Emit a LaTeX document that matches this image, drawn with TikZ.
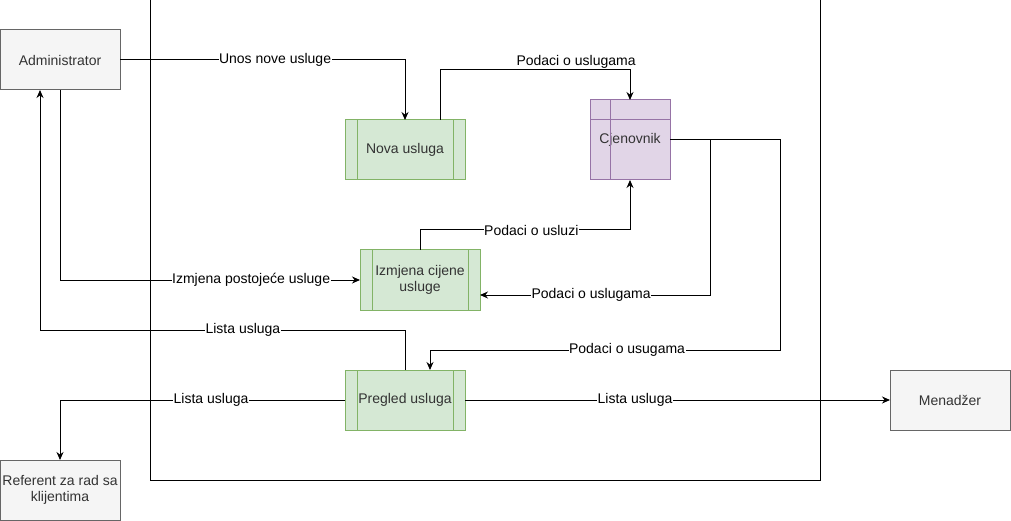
\documentclass[tikz,border=0pt]{standalone}
\usepackage{fontspec}
\setmainfont{Liberation Sans}
\usetikzlibrary{arrows.meta,calc}
\definecolor{gfill}{HTML}{F5F5F5}
\definecolor{gline}{HTML}{666666}
\definecolor{gtext}{HTML}{333333}
\definecolor{grfill}{HTML}{D5E8D4}
\definecolor{grline}{HTML}{82B366}
\definecolor{pfill}{HTML}{E1D5E7}
\definecolor{pline}{HTML}{9673A6}
\tikzset{
  ent/.style={draw=gline, fill=gfill, text=gtext, minimum width=120pt, minimum height=60pt, outer sep=0pt, inner sep=0pt, align=center, font=\fontsize{14}{16}\selectfont, line width=1pt},
  proc/.style={draw=grline, fill=grfill, text=gtext, minimum width=120pt, minimum height=60pt, outer sep=0pt, inner sep=0pt, align=center, font=\fontsize{14}{16}\selectfont, line width=1pt},
  store/.style={draw=pline, fill=pfill, text=gtext, minimum width=80pt, minimum height=80pt, outer sep=0pt, inner sep=0pt, align=center, font=\fontsize{14}{16}\selectfont, line width=1pt},
  frame/.style={draw=black, minimum width=670pt, minimum height=480pt, outer sep=0pt, inner sep=0pt, line width=1pt},
  arr/.style={draw=black, line width=1pt, -{Stealth[length=8pt,width=7pt]}},
  lbl/.style={fill=white, inner sep=0.5pt, text=black, font=\fontsize{14}{16}\selectfont},
}
\begin{document}
\begin{tikzpicture}[x=1pt,y=-1pt]
\useasboundingbox (0,0) rectangle (1011,521);
\node[frame] (sys) at (485,240) {};
\node[ent] (adm) at (60,60) {Administrator};
\node[ent] (men) at (950,400) {Menadžer};
\node[ent] (ref) at (60,490) {Referent za rad sa\\klijentima};
\node[proc] (nova) at (405,150) {Nova usluga};
\node[proc] (izm) at (420,280) {Izmjena cijene\\usluge};
\node[proc] (preg) at (405,400) {Pregled usluga};
\node[store] (cjen) at (630,140) {Cjenovnik};
% inner lines of process boxes
\foreach \n in {nova,izm,preg}{
  \draw[grline, line width=1pt] ([xshift=12pt]\n.north west) -- ([xshift=12pt]\n.south west);
  \draw[grline, line width=1pt] ([xshift=-12pt]\n.north east) -- ([xshift=-12pt]\n.south east);
}
\draw[pline, line width=1pt] ([xshift=20pt]cjen.north west) -- ([xshift=20pt]cjen.south west);
\draw[pline, line width=1pt] ([yshift=-20pt]cjen.north west) -- ([yshift=-20pt]cjen.north east);
% coordinates
\coordinate (c2) at (440,70);
\coordinate (c3) at (420,230);
\coordinate (c4) at (60,280);
\coordinate (c5) at (710,295);
\coordinate (c6a) at (780,350);
\coordinate (c6b) at (430,350);
\coordinate (c7a) at (405,330);
\coordinate (c7b) at (40,330);
\coordinate (c8) at (60,400);
% edges
\draw[arr] (adm.east) -- node[lbl,pos=0.544]{Unos nove usluge} (adm.east -| nova.north) -- (nova.north);
\draw[arr] (c2 |- nova.north) -- (c2) -- node[lbl,pos=0.716,yshift=8pt]{Podaci o uslugama} (c2 -| cjen.north) -- (cjen.north);
\draw[arr] (c3 |- izm.north) -- (c3) -- node[lbl,pos=0.53]{Podaci o usluzi} (c3 -| cjen.south) -- (cjen.south);
\draw[arr] (c4 |- adm.south) -- (c4) -- node[lbl,pos=0.637]{Izmjena postojeće usluge} (izm.west);
\draw[arr] (cjen.east) -- (cjen.east -| c5) -- (c5) -- node[lbl,pos=0.517]{Podaci o uslugama} (c5 -| izm.east);
\draw[arr] (cjen.east) -- (cjen.east -| c6a) -- (c6a) -- node[lbl,pos=0.437]{Podaci o usugama} (c6b) -- (c6b |- preg.north);
\draw[arr] (preg.north) -- (c7a) -- node[lbl,pos=0.444]{Lista usluga} (c7b) -- (c7b |- adm.south);
\draw[arr] (preg.west) -- node[lbl,pos=0.47]{Lista usluga} (c8) -- (ref.north);
\draw[arr] (preg.east) -- node[lbl,pos=0.40]{Lista usluga} (men.west);
\end{tikzpicture}
\end{document}
